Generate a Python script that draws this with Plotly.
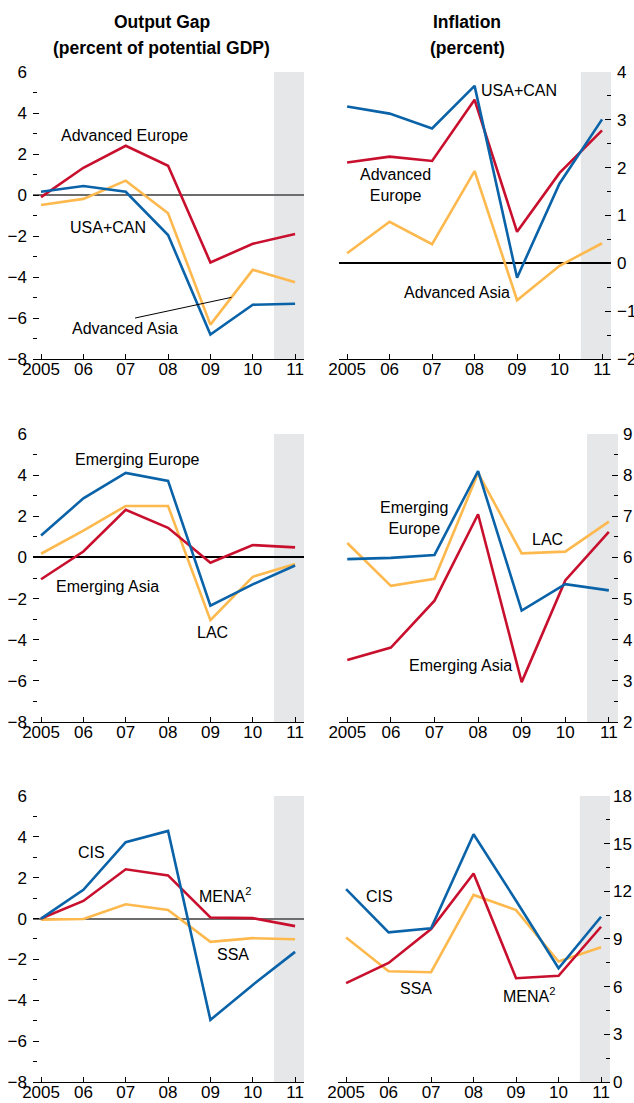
import plotly.graph_objects as go

years = [2005, 2006, 2007, 2008, 2009, 2010, 2011]
year_labels = ["2005", "06", "07", "08", "09", "10", "11"]

# Panel 1: Output gap, advanced
og_adv_europe = [-0.1, 1.33, 2.4, 1.43, -3.29, -2.38, -1.9]
og_usa_can = [0.16, 0.44, 0.16, -1.95, -6.8, -5.35, -5.3]
og_adv_asia = [-0.49, -0.19, 0.7, -0.89, -6.32, -3.65, -4.26]
# Panel 2: Inflation, advanced
inf_usa_can = [3.28, 3.13, 2.82, 3.71, -0.30, 1.67, 3.01]
inf_adv_europe = [2.11, 2.23, 2.14, 3.42, 0.66, 1.89, 2.78]
inf_adv_asia = [0.21, 0.87, 0.40, 1.93, -0.77, -0.05, 0.42]
# Panel 3: Output gap, emerging
og_em_europe = [1.07, 2.87, 4.11, 3.72, -2.34, -1.31, -0.39]
og_lac = [0.18, 1.30, 2.5, 2.5, -3.05, -0.94, -0.32]
og_em_asia = [-1.06, 0.29, 2.32, 1.44, -0.26, 0.6, 0.49]
# Panel 4: Inflation, emerging
inf_em_europe = [5.96, 5.99, 6.06, 8.10, 4.71, 5.35, 5.20]
inf_lac = [6.35, 5.31, 5.48, 8.05, 6.10, 6.14, 6.87]
inf_em_asia = [3.51, 3.81, 4.95, 7.05, 2.97, 5.44, 6.62]
# Panel 5: Output gap, other
og_cis = [0.0, 1.41, 3.74, 4.29, -4.96, -3.25, -1.63]
og_mena = [0.0, 0.86, 2.41, 2.11, 0.05, 0.02, -0.37]
og_ssa = [-0.05, -0.02, 0.70, 0.42, -1.14, -0.96, -1.01]
# Panel 6: Inflation, other
inf_cis = [12.14, 9.42, 9.67, 15.59, 11.41, 7.16, 10.4]
inf_mena = [6.22, 7.49, 9.63, 13.12, 6.53, 6.68, 9.77]
inf_ssa = [9.10, 6.97, 6.91, 11.77, 10.82, 7.58, 8.48]

RED = "#C8102E"
BLUE = "#0A63A8"
YELLOW = "#FDB94E"
SHADE = "#E6E7E8"
FONT = "Liberation Sans, Arial, sans-serif"

panels = [
    ([(og_adv_asia, YELLOW), (og_adv_europe, RED), (og_usa_can, BLUE)], [-8, 6], 2, 1, "left", "#6d6d6d", 2),
    ([(inf_adv_asia, YELLOW), (inf_adv_europe, RED), (inf_usa_can, BLUE)], [-2, 4], 1, 0.5, "right", "#000000", 1.5),
    ([(og_lac, YELLOW), (og_em_asia, RED), (og_em_europe, BLUE)], [-8, 6], 2, 1, "left", "#000000", 1.5),
    ([(inf_lac, YELLOW), (inf_em_asia, RED), (inf_em_europe, BLUE)], [2, 9], 1, 0.5, "right", None, 0),
    ([(og_ssa, YELLOW), (og_mena, RED), (og_cis, BLUE)], [-8, 6], 2, 1, "left", "#6d6d6d", 2),
    ([(inf_ssa, YELLOW), (inf_mena, RED), (inf_cis, BLUE)], [0, 18], 3, 1.5, "right", None, 0),
]

xdomains = [[0.0, 0.4632], [0.5231, 0.9880],
            [0.0, 0.4632], [0.5231, 1.0],
            [0.0, 0.4632], [0.5214, 0.9863]]
ydomains = [[0.7158, 1.0], [0.3564, 0.6416], [0.0, 0.2832]]
right_standoff = {2: 5, 4: 4, 6: 2}
XR = [2004.81, 2011.21]

fig = go.Figure()
layout = dict(
    width=634, height=1103,
    margin=dict(l=33, r=16, t=72, b=21),
    paper_bgcolor="white", plot_bgcolor="white",
    showlegend=False,
    font=dict(family=FONT, size=16, color="black"),
)
shapes = []
annotations = []

for i, (series, yr, major, minor, side, zc, zw) in enumerate(panels):
    n = i + 1
    row = i // 2
    xa = "xaxis" if n == 1 else f"xaxis{n}"
    ya = "yaxis" if n == 1 else f"yaxis{n}"
    yo = f"yaxis{n + 6}"
    xref = "x" if n == 1 else f"x{n}"
    yref = "y" if n == 1 else f"y{n}"
    for vals, col in series:
        fig.add_trace(go.Scatter(x=years, y=vals, mode="lines",
                                 line=dict(color=col, width=2.6),
                                 xaxis=xref, yaxis=yref, hoverinfo="skip"))
    layout[xa] = dict(domain=xdomains[i], anchor=yref, range=XR,
                      tickvals=years, ticktext=year_labels,
                      ticks="inside", ticklen=5, tickwidth=1, tickcolor="black",
                      showline=True, linecolor="black", linewidth=1.3,
                      showgrid=False, zeroline=False, automargin=False,
                      ticklabelstandoff=-6,
                      tickfont=dict(family=FONT, size=17))
    layout[ya] = dict(domain=ydomains[row], anchor=xref, range=yr, side=side,
                      dtick=major, tick0=yr[0],
                      ticks="inside", ticklen=6, tickwidth=1, tickcolor="black",
                      minor=dict(dtick=minor, tick0=yr[0], ticks="inside", ticklen=4,
                                 tickwidth=1, tickcolor="black"),
                      showline=False, showgrid=False, automargin=False,
                      zeroline=zc is not None, zerolinecolor=zc or "black",
                      zerolinewidth=zw or 1,
                      ticklabelstandoff=right_standoff.get(n, 5),
                      tickfont=dict(family=FONT, size=17))
    other = "right" if side == "left" else "left"
    layout[yo] = dict(overlaying=yref, anchor=xref, range=yr, side=other,
                      dtick=major, tick0=yr[0],
                      ticks="inside", ticklen=6, tickwidth=1, tickcolor="black",
                      minor=dict(dtick=minor, tick0=yr[0], ticks="inside", ticklen=4,
                                 tickwidth=1, tickcolor="black"),
                      showticklabels=False, showline=False, showgrid=False,
                      zeroline=False, automargin=False)
    shapes.append(dict(type="rect", xref=xref, yref=yref, x0=2010.5, x1=XR[1],
                       y0=yr[0], y1=yr[1], fillcolor=SHADE, line=dict(width=0),
                       layer="below"))

# Leader line panel 1
shapes.append(dict(type="line", xref="x", yref="y", x0=2007.22, y0=-6.0,
                   x1=2009.5, y1=-4.99, line=dict(color="black", width=1)))

labels = [
    (1, "Advanced Europe", 2006.98, 2.88),
    (1, "USA+CAN", 2006.58, -1.56),
    (1, "Advanced Asia", 2006.98, -6.49),
    (2, "USA+CAN", 2009.05, 3.62),
    (2, "Advanced<br>Europe", 2006.15, 1.64),
    (2, "Advanced Asia", 2007.59, -0.6),
    (3, "Emerging Europe", 2007.27, 4.74),
    (3, "Emerging Asia", 2006.56, -1.39),
    (3, "LAC", 2009.04, -3.63),
    (4, "Emerging<br>Europe", 2006.52, 6.95),
    (4, "LAC", 2009.6, 6.44),
    (4, "Emerging Asia", 2007.6, 3.37),
    (5, "CIS", 2006.18, 3.21),
    (5, "MENA<sup>2</sup>", 2009.35, 1.15),
    (5, "SSA", 2009.54, -1.78),
    (6, "CIS", 2005.78, 11.66),
    (6, "SSA", 2006.65, 5.89),
    (6, "MENA<sup>2</sup>", 2009.31, 5.45),
]
for n, txt, x, y in labels:
    annotations.append(dict(text=txt, x=x, y=y,
                            xref="x" if n == 1 else f"x{n}",
                            yref="y" if n == 1 else f"y{n}",
                            showarrow=False, xanchor="center", yanchor="middle",
                            font=dict(family=FONT, size=16, color="black")))

titles = [
    ("<b>Output Gap</b>", 0.2205, 1.0495),
    ("<b>(percent of potential GDP)</b>", 0.2205, 1.0238),
    ("<b>Inflation</b>", 0.7419, 1.0495),
    ("<b>(percent)</b>", 0.7419, 1.0238),
]
for txt, x, y in titles:
    annotations.append(dict(text=txt, x=x, y=y, xref="paper", yref="paper",
                            showarrow=False, xanchor="center", yanchor="middle",
                            font=dict(family=FONT, size=17.5, color="black")))

layout["shapes"] = shapes
layout["annotations"] = annotations
fig.update_layout(**layout)
# remove the browser's default 8px body margin so the figure fills the window
fig.write_html("out.html",
               config={"displayModeBar": False},
               post_script="document.body.style.margin='0px';document.body.style.overflow='hidden';")
